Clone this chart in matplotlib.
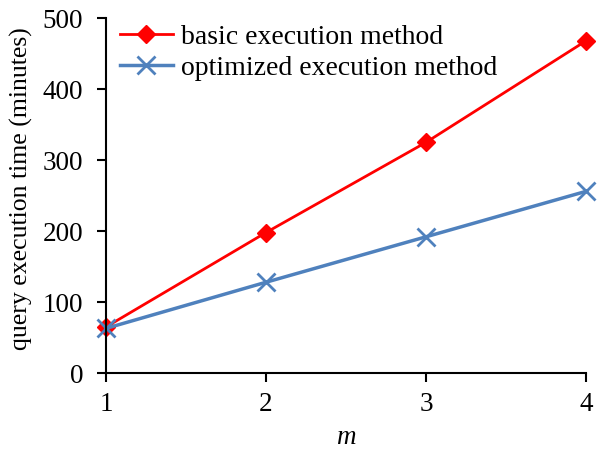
import matplotlib.pyplot as plt

# data
m = [1, 2, 3, 4]
basic = [65, 198, 325, 468]
optimized = [63, 128, 192, 256]

plt.rcParams['font.family'] = ['Liberation Serif', 'DejaVu Serif']

fig = plt.figure(figsize=(6.04, 4.55), dpi=100)
ax = fig.add_axes([0.1755, 0.180, 0.7945, 0.780])

ax.plot(m, basic, color='#FF0000', lw=2, marker='D', ms=9, label='basic execution method')
ax.plot(m, optimized, color='#4F81BD', lw=2.5, marker='x', ms=13, mew=2, label='optimized execution method')

ax.set_xlim(1, 4)
ax.set_ylim(0, 500)
ax.set_xticks(m)
ax.set_yticks([0, 100, 200, 300, 400, 500])
for s in ['top', 'right']:
    ax.spines[s].set_visible(False)
for s in ['left', 'bottom']:
    ax.spines[s].set_linewidth(1.5)
ax.tick_params(labelsize=19.5, width=1.5, length=6.5, direction='out')
ax.tick_params(axis='x', pad=7)
ax.tick_params(axis='y', pad=10)
ax.set_xlabel('m', fontsize=19.5, style='italic', labelpad=6)
ax.set_ylabel('query execution time (minutes)', fontsize=18.5)
ax.yaxis.set_label_coords(-0.152, 0.52)

ax.legend(loc='upper left', frameon=False, fontsize=20, handlelength=1.9,
          borderaxespad=0.1, labelspacing=0.2, handletextpad=0.3,
          bbox_to_anchor=(0.0, 1.022))
for ln in ax.lines:
    ln.set_clip_on(False)

fig.savefig('out.png', dpi=100)
